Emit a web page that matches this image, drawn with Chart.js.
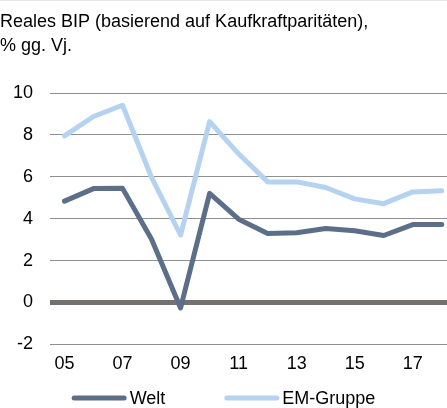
<!DOCTYPE html>
<html>
<head>
<meta charset="utf-8">
<script src="https://cdn.jsdelivr.net/npm/chart.js@4"></script>
<style>
    html, body { margin: 0; padding: 0; background: #fff; overflow: hidden; }
    #wrap { position: relative; width: 447px; height: 408px; }
    #topRule { position: absolute; left: 0; top: 0; width: 447px; height: 1px; background: #e4e4e4; }
</style>
</head>
<body>
<div id="wrap">
    <canvas id="bipChart" width="447" height="408"></canvas>
    <div id="topRule"></div>
</div>
<script>
// Colours
const COLORS = {
    welt: '#5b7088',
    em: '#b5d3f0',
    grid: '#8f8f8f',
    zero: '#747171',
    text: '#000000'
};

const FONT = "'Liberation Sans', Arial, sans-serif";

const titleLines = ['Reales BIP (basierend auf Kaufkraftparitäten),', '% gg. Vj.'];

const years = [2005, 2006, 2007, 2008, 2009, 2010, 2011, 2012, 2013, 2014, 2015, 2016, 2017, 2018];
const weltValues = [4.84, 5.44, 5.45, 3.02, -0.26, 5.21, 3.98, 3.30, 3.33, 3.53, 3.43, 3.20, 3.72, 3.72];
const emValues = [7.96, 8.88, 9.42, 5.97, 3.22, 8.64, 7.10, 5.76, 5.76, 5.49, 4.95, 4.72, 5.28, 5.34];

const xTickYears = [2005, 2007, 2009, 2011, 2013, 2015, 2017];
const xTickLabels = ['05', '07', '09', '11', '13', '15', '17'];

// legend drawn as line markers under the x axis
const lineLegend = {
    id: 'lineLegend',
    afterDraw(chart) {
        const ctx = chart.ctx;
        const markerW = 55;
        const textGap = 3;
        const itemGap = 59;
        const y = 398;

        ctx.save();
        ctx.font = '18px ' + FONT;
        const items = chart.data.datasets.map((ds) => ({
            label: ds.label,
            color: ds.borderColor,
            textW: ctx.measureText(ds.label).width
        }));
        let total = 0;
        items.forEach((it, i) => {
            total += markerW + textGap + it.textW;
            if (i > 0) total += itemGap;
        });
        let x = (chart.width - total) / 2;
        items.forEach((it) => {
            ctx.strokeStyle = it.color;
            ctx.lineWidth = 5;
            ctx.lineCap = 'round';
            ctx.beginPath();
            ctx.moveTo(x + 2.5, y);
            ctx.lineTo(x + markerW - 2.5, y);
            ctx.stroke();
            ctx.fillStyle = COLORS.text;
            ctx.textBaseline = 'middle';
            ctx.textAlign = 'left';
            ctx.fillText(it.label, x + markerW + textGap, y + 1);
            x += markerW + textGap + it.textW + itemGap;
        });
        ctx.restore();
    }
};

const ctx = document.getElementById('bipChart').getContext('2d');
const bipChart = new Chart(ctx, {
    type: 'line',
    data: {
        datasets: [{
            label: 'Welt',
            data: years.map((yr, i) => ({ x: yr, y: weltValues[i] })),
            borderColor: COLORS.welt,
            backgroundColor: COLORS.welt,
            borderWidth: 5,
            borderCapStyle: 'round',
            borderJoinStyle: 'round',
            pointRadius: 0,
            tension: 0,
            fill: false,
            order: 2
        }, {
            label: 'EM-Gruppe',
            data: years.map((yr, i) => ({ x: yr, y: emValues[i] })),
            borderColor: COLORS.em,
            backgroundColor: COLORS.em,
            borderWidth: 5,
            borderCapStyle: 'round',
            borderJoinStyle: 'round',
            pointRadius: 0,
            tension: 0,
            fill: false,
            order: 1
        }]
    },
    options: {
        responsive: false,
        animation: false,
        layout: { padding: { left: 0, right: 0, top: 0, bottom: 24 } },
        plugins: {
            legend: { display: false },
            tooltip: { enabled: false },
            title: {
                display: true,
                text: titleLines,
                align: 'start',
                color: COLORS.text,
                font: { family: FONT, size: 18, weight: 'normal', lineHeight: 1.28 },
                padding: { top: 11, bottom: 36, left: 10 }
            }
        },
        scales: {
            x: {
                type: 'linear',
                min: 2004.5,
                max: 2018.18,
                afterBuildTicks: (scale) => {
                    scale.ticks = xTickYears.map((v) => ({ value: v }));
                },
                grid: { display: false, drawTicks: false },
                border: { display: false },
                ticks: {
                    color: COLORS.text,
                    font: { family: FONT, size: 18 },
                    padding: 9,
                    maxRotation: 0,
                    autoSkip: false,
                    callback: (value) => {
                        const idx = xTickYears.indexOf(value);
                        return idx >= 0 ? xTickLabels[idx] : '';
                    }
                }
            },
            y: {
                min: -2,
                max: 10,
                afterFit: (scale) => { scale.width = 50; },
                grid: {
                    drawTicks: false,
                    color: (c) => (c.tick && c.tick.value === 0 ? COLORS.zero : COLORS.grid),
                    lineWidth: (c) => (c.tick && c.tick.value === 0 ? 5 : 1)
                },
                border: { display: false },
                ticks: {
                    stepSize: 2,
                    color: COLORS.text,
                    font: { family: FONT, size: 18 },
                    padding: 17
                }
            }
        }
    },
    plugins: [lineLegend]
});
</script>
</body>
</html>
